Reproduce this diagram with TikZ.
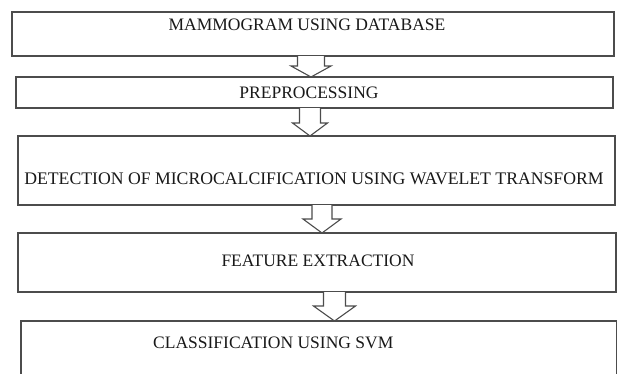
\documentclass[tikz,border=0pt]{standalone}
\usepackage{fontspec}
\setmainfont{Liberation Serif}
\usetikzlibrary{calc}
\tikzset{
  box/.style={draw=black!70, line width=1.2pt, fill=white, inner sep=0pt, outer sep=0pt},
  lbl/.style={font=\fontsize{17.5}{20}\selectfont, text=black!90, inner sep=0pt},
  arrowline/.style={draw=black!70, line width=1.1pt, fill=white, line join=miter},
}
% #1 upper box, #2 lower box, #3 centre x, #4 half shaft, #5 half head, #6 head length
\newcommand\blkarrow[6]{%
  \draw[arrowline] let \p1=(#1.south), \p2=(#2.north) in
    (#3pt-#4pt,\y1) -- (#3pt-#4pt,\y2+#6pt) -- (#3pt-#5pt,\y2+#6pt) -- (#3pt,\y2)
    -- (#3pt+#5pt,\y2+#6pt) -- (#3pt+#4pt,\y2+#6pt) -- (#3pt+#4pt,\y1);}
\begin{document}
\begin{tikzpicture}[x=1pt,y=-1pt]
  \useasboundingbox (0,0) rectangle (617,373);
  \clip (0,0) rectangle (617,373);
  \node[box, minimum width=602pt, minimum height=44pt] (b1) at (313,34) {};
  \node[box, minimum width=597pt, minimum height=31pt] (b2) at (314.5,92.5) {};
  \node[box, minimum width=597pt, minimum height=69pt] (b3) at (316.5,170.5) {};
  \node[box, minimum width=598pt, minimum height=59pt] (b4) at (317,262.5) {};
  \node[box, minimum width=596pt, minimum height=77pt] (b5) at (319,359.5) {};

  \node[lbl] (t1) at (307,25) {MAMMOGRAM USING DATABASE};
  \node[lbl] (t2) at (309,93) {PREPROCESSING};
  \node[lbl, font=\fontsize{17.7}{20}\selectfont] (t3) at (314,179) {DETECTION OF MICROCALCIFICATION USING WAVELET TRANSFORM};
  \node[lbl] (t4) at (318,261) {FEATURE EXTRACTION};
  \node[lbl, anchor=west] (t5) at (153,343) {CLASSIFICATION USING SVM};

  \blkarrow{b1}{b2}{311}{13.5}{20}{11}
  \blkarrow{b2}{b3}{310}{10.5}{17.5}{13}
  \blkarrow{b3}{b4}{322}{10}{19}{14}
  \blkarrow{b4}{b5}{334.5}{11}{21}{15}
\end{tikzpicture}
\end{document}
